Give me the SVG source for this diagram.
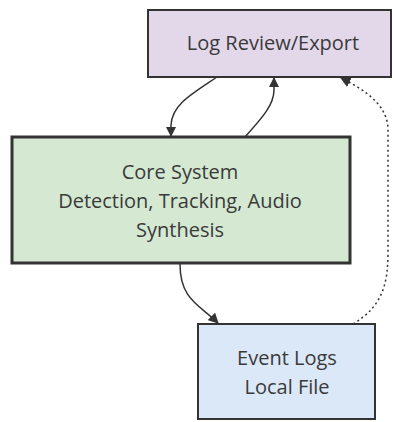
<svg xmlns="http://www.w3.org/2000/svg" width="395" height="422" viewBox="0 0 395 422">
<style>
text{font-family:"Open Sans","DejaVu Sans",sans-serif;font-size:20px;fill:#3a3a3a;text-anchor:middle}
.e{fill:none;stroke:#333;stroke-width:1.5}
.d{stroke-dasharray:2 3}
</style>
<defs>
<marker id="ah" viewBox="0 0 10 10" refX="9" refY="5" markerWidth="7" markerHeight="7" orient="auto-start-reverse"><path d="M0,0L10,5L0,10z" fill="#333"/></marker>
</defs>
<rect width="395" height="422" fill="#fff"/>
<g id="log-review">
<rect x="148" y="10" width="243" height="67" fill="#e3d8ea" stroke="#333" stroke-width="2"/>
<text x="273" y="50">Log Review/Export</text>
</g>
<g id="core-system">
<rect x="12" y="137" width="338" height="126" fill="#d4e8d2" stroke="#333" stroke-width="3"/>
<text x="180" y="179">Core System</text>
<text x="180" y="208">Detection, Tracking, Audio</text>
<text x="180" y="237">Synthesis</text>
</g>
<g id="event-logs">
<rect x="198" y="324" width="177" height="95" fill="#dae8f8" stroke="#333" stroke-width="2"/>
<text x="287" y="365">Event Logs</text>
<text x="287" y="394">Local File</text>
</g>
<g id="connectors">
<path class="e" d="M217,77 C190,95 172,105 171,125 L171,136" marker-end="url(#ah)"/>
<path class="e" d="M245,137 C262,118 274,105 274,90 L274,78" marker-end="url(#ah)"/>
<path class="e" d="M180,264 C180,300 200,305 218,323" marker-end="url(#ah)"/>
<path class="e d" d="M353,324 C385,305 388,280 388,250 L388,130 C388,105 365,90 341,78" marker-end="url(#ah)"/>
</g>
</svg>
